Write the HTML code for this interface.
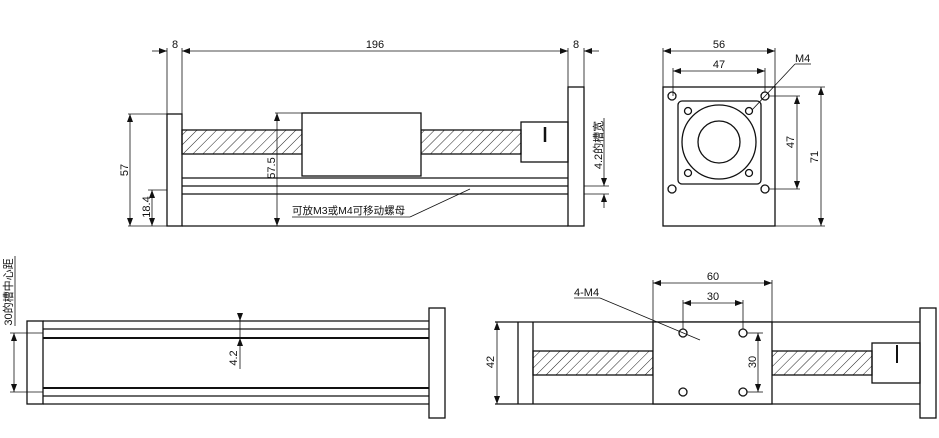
<!DOCTYPE html>
<html><head><meta charset="utf-8"><style>
html,body{margin:0;padding:0;background:#fff;width:939px;height:438px;overflow:hidden}
svg{display:block}
text{font-family:"Liberation Sans","Noto Sans CJK SC",sans-serif;font-size:11px;fill:#111}
</style></head><body>
<svg width="939" height="438" viewBox="0 0 939 438" xmlns="http://www.w3.org/2000/svg">
<defs>
<pattern id="h" width="7" height="7" patternUnits="userSpaceOnUse" patternTransform="rotate(45)">
<line x1="0" y1="0" x2="0" y2="7" stroke="#222" stroke-width="1"/></pattern>
<marker id="a" markerWidth="8" markerHeight="6" refX="8" refY="3" orient="auto-start-reverse" markerUnits="userSpaceOnUse">
<path d="M0,0 L8,3 L0,6 z" fill="#111"/></marker>
</defs>
<g stroke="#111" stroke-width="1.3" fill="none">
<!-- TOP LEFT VIEW -->
<rect x="167" y="114" width="15" height="112"/>
<rect x="568" y="87" width="16" height="139"/>
<line x1="182" y1="226" x2="568" y2="226"/>
<line x1="182" y1="178" x2="568" y2="178"/>
<line x1="182" y1="186" x2="568" y2="186"/>
<line x1="182" y1="194" x2="568" y2="194"/>
<rect x="182" y="130" width="120" height="24" fill="url(#h)"/>
<rect x="421" y="130" width="100" height="24" fill="url(#h)"/>
<rect x="302" y="113" width="119" height="63" fill="#fff"/>
<rect x="521" y="122" width="47" height="40"/>
<line x1="545" y1="127" x2="545" y2="142" stroke-width="2.5"/>
</g>
<g stroke="#111" stroke-width="0.8" fill="none">
<line x1="167" y1="48" x2="167" y2="114"/><line x1="182" y1="48" x2="182" y2="114"/>
<line x1="568" y1="48" x2="568" y2="87"/><line x1="584" y1="48" x2="584" y2="87"/>
<line x1="152" y1="51" x2="167" y2="51" marker-end="url(#a)"/>
<line x1="182" y1="51" x2="568" y2="51" marker-start="url(#a)" marker-end="url(#a)"/>
<line x1="599" y1="51" x2="584" y2="51" marker-end="url(#a)"/>
<line x1="128" y1="114" x2="167" y2="114"/>
<line x1="130" y1="114" x2="130" y2="226" marker-start="url(#a)" marker-end="url(#a)"/>
<line x1="128" y1="226" x2="167" y2="226"/>
<line x1="148" y1="190" x2="167" y2="190"/>
<line x1="152" y1="190" x2="152" y2="226" marker-start="url(#a)" marker-end="url(#a)"/>
<line x1="275" y1="113" x2="302" y2="113"/>
<line x1="277" y1="113" x2="277" y2="226" marker-start="url(#a)" marker-end="url(#a)"/>
<line x1="584" y1="186" x2="609" y2="186"/><line x1="584" y1="194" x2="609" y2="194"/>
<line x1="604" y1="172" x2="604" y2="186" marker-end="url(#a)"/>
<line x1="604" y1="208" x2="604" y2="194" marker-end="url(#a)"/>
<line x1="604" y1="118" x2="604" y2="172"/>
<line x1="470" y1="189" x2="410" y2="217"/><line x1="410" y1="217" x2="292" y2="217"/>
</g>
<text x="175" y="48" text-anchor="middle">8</text>
<text x="375" y="48" text-anchor="middle">196</text>
<text x="576" y="48" text-anchor="middle">8</text>
<text transform="translate(128,170) rotate(-90)" text-anchor="middle">57</text>
<text transform="translate(150,207) rotate(-90)" text-anchor="middle">18.4</text>
<text transform="translate(275,168) rotate(-90)" text-anchor="middle">57.5</text>
<text transform="translate(602,145) rotate(-90)" text-anchor="middle">4.2的槽宽</text>
<text x="292" y="214" style="font-size:10.5px">可放M3或M4可移动螺母</text>

<!-- TOP RIGHT VIEW -->
<g stroke="#111" stroke-width="1.3" fill="none">
<rect x="663" y="87" width="112" height="139"/>
<rect x="678" y="101" width="83" height="83" rx="4"/>
<circle cx="719" cy="142" r="37"/>
<circle cx="719" cy="142" r="21"/>
<circle cx="672" cy="96" r="4"/><circle cx="765" cy="96" r="4"/>
<circle cx="672" cy="189" r="4"/><circle cx="765" cy="189" r="4"/>
<circle cx="688" cy="111" r="3.5"/><circle cx="749" cy="111" r="3.5"/>
<circle cx="688" cy="173" r="3.5"/><circle cx="749" cy="173" r="3.5"/>
</g>
<g stroke="#111" stroke-width="0.8" fill="none">
<line x1="663" y1="48" x2="663" y2="87"/><line x1="775" y1="48" x2="775" y2="87"/>
<line x1="663" y1="51" x2="775" y2="51" marker-start="url(#a)" marker-end="url(#a)"/>
<line x1="673" y1="68" x2="673" y2="96"/><line x1="765" y1="68" x2="765" y2="92"/>
<line x1="673" y1="71" x2="765" y2="71" marker-start="url(#a)" marker-end="url(#a)"/>
<line x1="769" y1="96" x2="800" y2="96"/><line x1="769" y1="189" x2="800" y2="189"/>
<line x1="797" y1="96" x2="797" y2="189" marker-start="url(#a)" marker-end="url(#a)"/>
<line x1="775" y1="87" x2="825" y2="87"/><line x1="775" y1="226" x2="825" y2="226"/>
<line x1="821" y1="87" x2="821" y2="226" marker-start="url(#a)" marker-end="url(#a)"/>
<line x1="752" y1="110" x2="795" y2="64"/><line x1="795" y1="64" x2="811" y2="64"/>
</g>
<text x="719" y="48" text-anchor="middle">56</text>
<text x="719" y="68" text-anchor="middle">47</text>
<text transform="translate(794,142) rotate(-90)" text-anchor="middle">47</text>
<text transform="translate(818,157) rotate(-90)" text-anchor="middle">71</text>
<text x="795" y="62">M4</text>

<!-- BOTTOM LEFT VIEW -->
<g stroke="#111" stroke-width="1.3" fill="none">
<rect x="27" y="321" width="16" height="83"/>
<rect x="429" y="308" width="16" height="110"/>
<line x1="43" y1="321" x2="429" y2="321"/>
<line x1="43" y1="329" x2="429" y2="329"/>
<line x1="43" y1="338" x2="429" y2="338" stroke-width="2"/>
<line x1="43" y1="388" x2="429" y2="388" stroke-width="2"/>
<line x1="43" y1="396" x2="429" y2="396"/>
<line x1="43" y1="404" x2="429" y2="404"/>
</g>
<g stroke="#111" stroke-width="0.8" fill="none">
<line x1="10" y1="333" x2="43" y2="333"/><line x1="10" y1="392" x2="43" y2="392"/>
<line x1="14" y1="333" x2="14" y2="392" marker-start="url(#a)" marker-end="url(#a)"/>
<line x1="15" y1="256" x2="15" y2="326"/>
<line x1="240" y1="313" x2="240" y2="321" marker-end="url(#a)"/>
<line x1="240" y1="346" x2="240" y2="338" marker-end="url(#a)"/>
<line x1="240" y1="321" x2="240" y2="338"/>
<line x1="240" y1="346" x2="240" y2="369"/>
</g>
<text transform="translate(12,292) rotate(-90)" text-anchor="middle">30的槽中心距</text>
<text transform="translate(237,358) rotate(-90)" text-anchor="middle">4.2</text>

<!-- BOTTOM RIGHT VIEW -->
<g stroke="#111" stroke-width="1.3" fill="none">
<line x1="495" y1="322" x2="920" y2="322"/>
<line x1="495" y1="404" x2="920" y2="404"/>
<line x1="518" y1="322" x2="518" y2="404"/>
<line x1="533" y1="322" x2="533" y2="404"/>
<rect x="533" y="351" width="120" height="24" fill="url(#h)"/>
<rect x="772" y="351" width="100" height="24" fill="url(#h)"/>
<rect x="653" y="322" width="119" height="82" fill="#fff"/>
<rect x="872" y="343" width="48" height="40"/>
<line x1="897" y1="345" x2="897" y2="363" stroke-width="2"/>
<rect x="920" y="308" width="16" height="110"/>
<circle cx="683" cy="333" r="4"/><circle cx="743" cy="333" r="4"/>
<circle cx="683" cy="392" r="4"/><circle cx="743" cy="392" r="4"/>
</g>
<g stroke="#111" stroke-width="0.8" fill="none">
<line x1="653" y1="280" x2="653" y2="322"/><line x1="772" y1="280" x2="772" y2="322"/>
<line x1="653" y1="283" x2="772" y2="283" marker-start="url(#a)" marker-end="url(#a)"/>
<line x1="683" y1="300" x2="683" y2="329"/><line x1="743" y1="300" x2="743" y2="329"/>
<line x1="683" y1="303" x2="743" y2="303" marker-start="url(#a)" marker-end="url(#a)"/>
<line x1="747" y1="333" x2="763" y2="333"/><line x1="747" y1="392" x2="763" y2="392"/>
<line x1="758" y1="333" x2="758" y2="392" marker-start="url(#a)" marker-end="url(#a)"/>
<line x1="497" y1="322" x2="497" y2="404" marker-start="url(#a)" marker-end="url(#a)"/>
<line x1="574" y1="298" x2="600" y2="298"/><line x1="600" y1="298" x2="700" y2="340"/>
</g>
<text x="713" y="280" text-anchor="middle">60</text>
<text x="713" y="300" text-anchor="middle">30</text>
<text transform="translate(756,362) rotate(-90)" text-anchor="middle">30</text>
<text transform="translate(494,362) rotate(-90)" text-anchor="middle">42</text>
<text x="574" y="296">4-M4</text>
</svg>
</body></html>
